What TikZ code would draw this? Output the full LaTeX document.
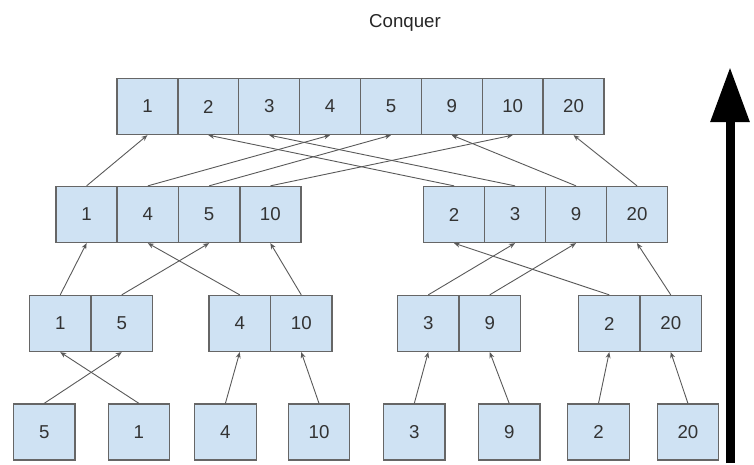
\documentclass[tikz,border=0pt]{standalone}
\usepackage{fontspec}
\setmainfont{Liberation Sans}
\usetikzlibrary{arrows.meta}
\definecolor{cellfill}{HTML}{CFE2F3}
\definecolor{cellline}{HTML}{666666}
\definecolor{edgecol}{HTML}{595959}
\begin{document}
\begin{tikzpicture}[x=1pt,y=-1pt,
  cell/.style={draw=cellline,line width=1.3pt,fill=cellfill,minimum width=61pt,minimum height=56pt,inner sep=0pt,text=black!80,font=\fontsize{18.67}{20}\selectfont},
  edge/.style={draw=edgecol,line width=0.9pt,-{Stealth[length=6pt,width=5pt]}},
  bigarrow/.style={line width=9pt,-{Triangle[length=55pt,width=37pt]}}]
\useasboundingbox (0,0) rectangle (754,464);
\node[anchor=base,font=\fontsize{18.67}{22}\selectfont,text=black!85] (title) at (405,27.5) {Conquer};
% top row
\foreach \v [count=\i] in {1,2,3,4,5,9,10,20}
  \node[cell,minimum width=60.9pt] (t\i) at ({117+30.44+(\i-1)*60.875},106.5) {\v};
% level 2
\foreach \v [count=\i] in {1,4,5,10}
  \node[cell] (l\i) at ({56+30.6+(\i-1)*61.25},214.5) {\v};
\foreach \v [count=\i] in {2,3,9,20}
  \node[cell] (r\i) at ({423.5+30.5+(\i-1)*61},214.5) {\v};
% level 3
\node[cell,minimum width=61.5pt] (g1a) at (60.25,323.5) {1};
\node[cell,minimum width=61.5pt] (g1b) at (121.75,323.5) {5};
\node[cell,minimum width=61.5pt] (g2a) at (239.75,323.5) {4};
\node[cell,minimum width=61.5pt] (g2b) at (301.25,323.5) {10};
\node[cell,minimum width=61.5pt] (g3a) at (428.25,323.5) {3};
\node[cell,minimum width=61.5pt] (g3b) at (489.75,323.5) {9};
\node[cell,minimum width=61.5pt] (g4a) at (609.25,323.5) {2};
\node[cell,minimum width=61.5pt] (g4b) at (670.75,323.5) {20};
% bottom
\foreach \v/\x [count=\i] in {5/44.2,1/138.9,4/225.4,10/319,3/414.3,9/509.2,2/598.5,20/687.9}
  \node[cell,minimum width=61.5pt] (b\i) at (\x,432) {\v};
% edges bottom -> level 3
\draw[edge] (b1.north) -- (g1b.south);
\draw[edge] (b2.north) -- (g1a.south);
\draw[edge] (b3.north) -- (g2a.south);
\draw[edge] (b4.north) -- (g2b.south);
\draw[edge] (b5.north) -- (g3a.south);
\draw[edge] (b6.north) -- (g3b.south);
\draw[edge] (b7.north) -- (g4a.south);
\draw[edge] (b8.north) -- (g4b.south);
% level 3 -> level 2
\draw[edge] (g1a.north) -- (l1.south);
\draw[edge] (g1b.north) -- (l3.south);
\draw[edge] (g2a.north) -- (l2.south);
\draw[edge] (g2b.north) -- (l4.south);
\draw[edge] (g3a.north) -- (r2.south);
\draw[edge] (g3b.north) -- (r3.south);
\draw[edge] (g4a.north) -- (r1.south);
\draw[edge] (g4b.north) -- (r4.south);
% level 2 -> top
\draw[edge] (l1.north) -- (t1.south);
\draw[edge] (l2.north) -- (t4.south);
\draw[edge] (l3.north) -- (t5.south);
\draw[edge] (l4.north) -- (t7.south);
\draw[edge] (r1.north) -- (t2.south);
\draw[edge] (r2.north) -- (t3.south);
\draw[edge] (r3.north) -- (t6.south);
\draw[edge] (r4.north) -- (t8.south);
% big arrow
\coordinate (arrowfoot) at (730,463);
\coordinate (arrowtip) at (730,67);
\draw[bigarrow] (arrowfoot) -- (arrowtip);
\end{tikzpicture}
\end{document}
